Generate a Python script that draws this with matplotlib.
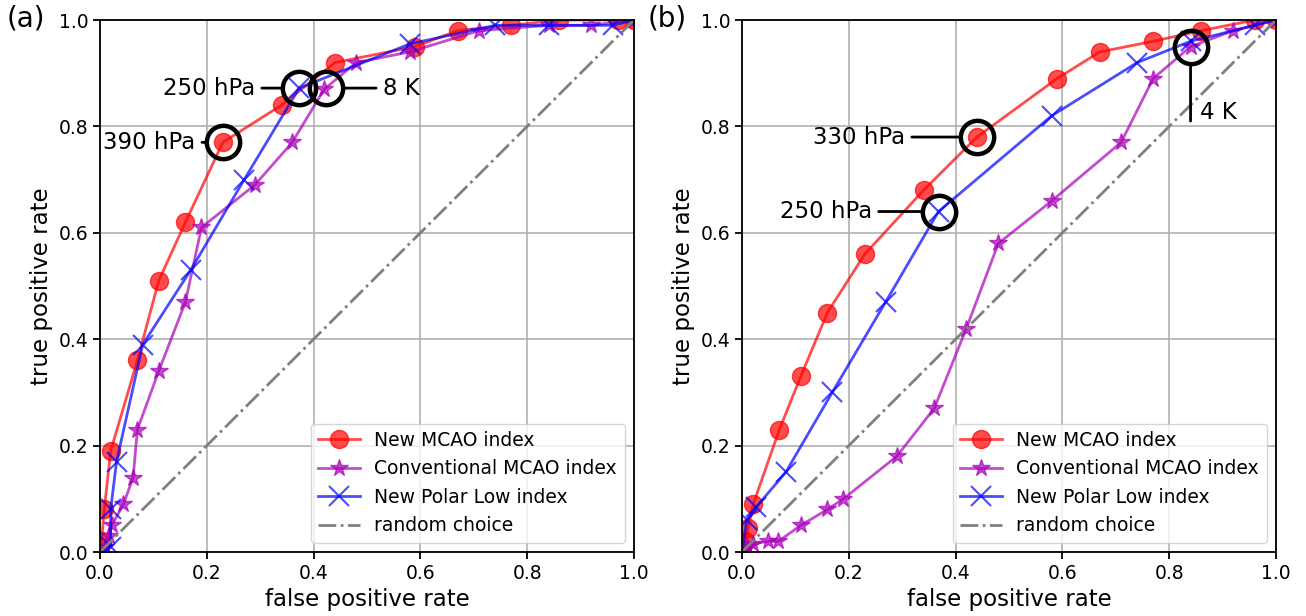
import matplotlib.pyplot as plt

# (a) ROC curves
a_mcao_x = [0, 0.003, 0.008, 0.02, 0.07, 0.11, 0.16, 0.23, 0.34, 0.44, 0.59, 0.67, 0.77, 0.86, 0.97, 1.0]
a_mcao_y = [0, 0.02, 0.08, 0.19, 0.36, 0.51, 0.62, 0.77, 0.84, 0.92, 0.95, 0.98, 0.99, 1.0, 1.0, 1.0]
a_conv_x = [0, 0.01, 0.017, 0.022, 0.044, 0.062, 0.07, 0.11, 0.16, 0.19, 0.29, 0.36, 0.42, 0.48, 0.58, 0.71, 0.84, 0.92, 1.0]
a_conv_y = [0, 0.01, 0.03, 0.05, 0.09, 0.14, 0.23, 0.34, 0.47, 0.61, 0.69, 0.77, 0.87, 0.92, 0.94, 0.98, 0.99, 0.99, 1.0]
a_pl_x = [0, 0.02, 0.02, 0.031, 0.08, 0.17, 0.27, 0.373, 0.58, 0.74, 0.84, 0.96, 1.0]
a_pl_y = [0, 0.01, 0.08, 0.17, 0.39, 0.53, 0.70, 0.872, 0.955, 0.99, 0.99, 0.99, 1.0]

# (b) ROC curves
b_mcao_x = [0, 0.005, 0.012, 0.021, 0.07, 0.11, 0.16, 0.23, 0.34, 0.44, 0.59, 0.67, 0.77, 0.86, 0.96, 1.0]
b_mcao_y = [0, 0.02, 0.045, 0.09, 0.23, 0.33, 0.45, 0.56, 0.68, 0.78, 0.89, 0.94, 0.96, 0.98, 1.0, 1.0]
b_conv_x = [0, 0.01, 0.02, 0.049, 0.068, 0.11, 0.16, 0.19, 0.29, 0.36, 0.42, 0.48, 0.58, 0.71, 0.77, 0.84, 0.92, 1.0]
b_conv_y = [0, 0.01, 0.015, 0.02, 0.02, 0.05, 0.08, 0.10, 0.18, 0.27, 0.42, 0.58, 0.66, 0.77, 0.89, 0.95, 0.98, 1.0]
b_pl_x = [0, 0.009, 0.027, 0.082, 0.169, 0.269, 0.368, 0.58, 0.74, 0.84, 0.96, 1.0]
b_pl_y = [0, 0.06, 0.085, 0.15, 0.30, 0.47, 0.64, 0.82, 0.92, 0.96, 0.99, 1.0]

labels = ['New MCAO index', 'Conventional MCAO index', 'New Polar Low index', 'random choice']

# highlighted points: (x, y, text)
a_marks = [(0.23, 0.77, '390 hPa'), (0.373, 0.872, '250 hPa'), (0.423, 0.872, '8 K')]
b_marks = [(0.44, 0.78, '330 hPa'), (0.368, 0.64, '250 hPa'), (0.84, 0.95, '4 K')]

purple = '#a800b8'

fig = plt.figure(figsize=(13.06, 6.16), dpi=100)
ax1 = fig.add_axes([100 / 1306, 64 / 616, 534 / 1306, 532 / 616])
ax2 = fig.add_axes([742 / 1306, 64 / 616, 534 / 1306, 532 / 616])


def draw_panel(ax, mx, my, cx, cy, px, py):
    ax.plot(mx, my, '-o', color='r', alpha=0.7, lw=2, ms=13, label=labels[0])
    ax.plot(cx, cy, '-*', color=purple, alpha=0.7, lw=2, ms=13, label=labels[1])
    ax.plot(px, py, '-x', color='b', alpha=0.7, lw=2, ms=15, mew=1.5, label=labels[2])
    ax.plot([0, 1], [0, 1], '-.', color='gray', lw=2, label=labels[3])
    ax.set_xlim(0, 1)
    ax.set_ylim(0, 1)
    ax.grid(True, lw=1.2)
    ax.set_xlabel('false positive rate', fontsize=16.5)
    ax.set_ylabel('true positive rate', fontsize=16.5)
    ax.tick_params(labelsize=13.5, width=1.3, length=5)
    for s in ax.spines.values():
        s.set_linewidth(1.3)
    ax.legend(loc='lower right', fontsize=13.5, handlelength=2.2)


draw_panel(ax1, a_mcao_x, a_mcao_y, a_conv_x, a_conv_y, a_pl_x, a_pl_y)
draw_panel(ax2, b_mcao_x, b_mcao_y, b_conv_x, b_conv_y, b_pl_x, b_pl_y)

line = dict(arrowstyle='-', color='k', lw=2, shrinkA=3, shrinkB=12)
for ax, marks in [(ax1, a_marks), (ax2, b_marks)]:
    for x, y, t in marks:
        ax.plot(x, y, 'o', mfc='none', mec='k', ms=24, mew=3.2, zorder=5)

# (a) labels
ax1.annotate('390 hPa', xy=(a_marks[0][0], a_marks[0][1]), xytext=(0.178, 0.77),
             ha='right', va='center', fontsize=16.5, arrowprops=line)
ax1.annotate('250 hPa', xy=(a_marks[1][0], a_marks[1][1]), xytext=(0.29, 0.872),
             ha='right', va='center', fontsize=16.5, arrowprops=line)
ax1.annotate('8 K', xy=(a_marks[2][0], a_marks[2][1]), xytext=(0.53, 0.872),
             ha='left', va='center', fontsize=16.5, arrowprops=line)

# (b) labels
ax2.annotate('330 hPa', xy=(b_marks[0][0], b_marks[0][1]), xytext=(0.305, 0.78),
             ha='right', va='center', fontsize=16.5, arrowprops=line)
ax2.annotate('250 hPa', xy=(b_marks[1][0], b_marks[1][1]), xytext=(0.243, 0.64),
             ha='right', va='center', fontsize=16.5, arrowprops=line)
ax2.annotate('', xy=(b_marks[2][0], b_marks[2][1]), xytext=(0.84, 0.81),
             arrowprops=dict(arrowstyle='-', color='k', lw=2, shrinkA=0, shrinkB=12))
ax2.text(0.857, 0.826, '4 K', ha='left', va='center', fontsize=16.5)

fig.text(7 / 1306, 1 - 18 / 616, '(a)', fontsize=20, ha='left', va='center')
fig.text(648 / 1306, 1 - 18 / 616, '(b)', fontsize=20, ha='left', va='center')

plt.savefig('out.png', dpi=100)
